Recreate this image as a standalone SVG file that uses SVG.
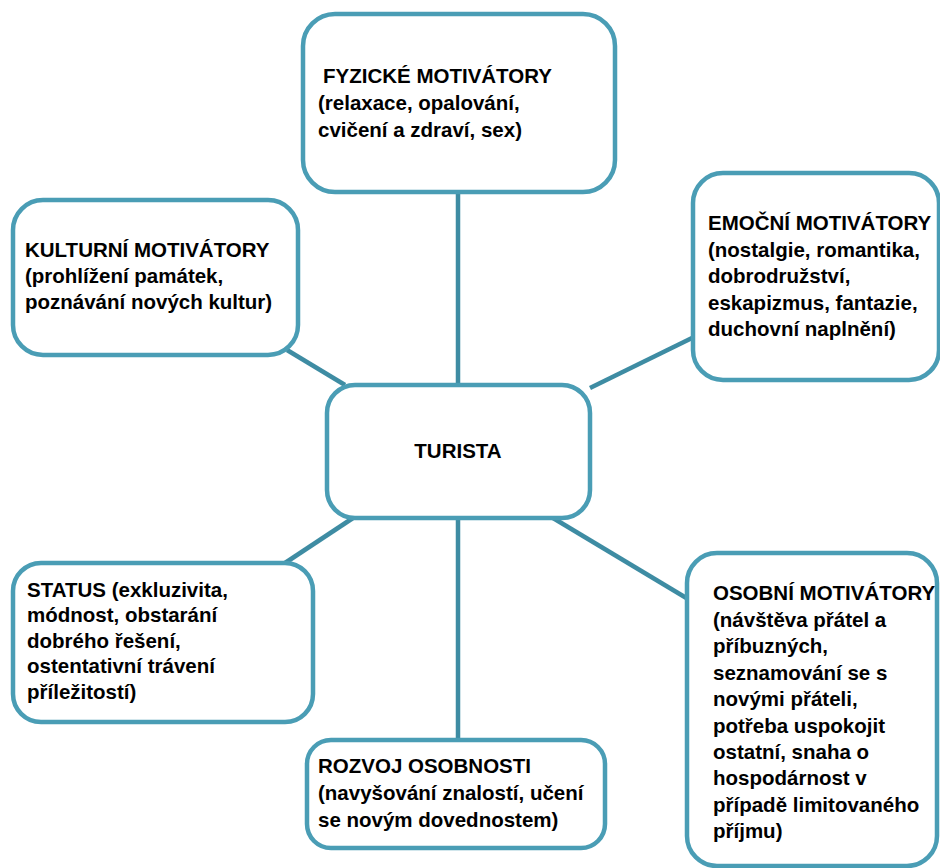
<svg xmlns="http://www.w3.org/2000/svg" width="940" height="868" viewBox="0 0 940 868">
<style>
.box{fill:#ffffff;stroke:#4a9db5;stroke-width:4.5}
.con{stroke:#3e8ca3;stroke-width:4.5;fill:none}
text{font-family:"Liberation Sans",Arial,sans-serif;font-weight:bold;font-size:20.5px;fill:#000}
</style>
<rect width="940" height="868" fill="#ffffff"/>
<g id="connectors">
<line class="con" x1="458" y1="192" x2="458" y2="385"/>
<line class="con" x1="458" y1="518" x2="458" y2="740"/>
<line class="con" x1="287" y1="350" x2="345" y2="385"/>
<line class="con" x1="590" y1="388" x2="692" y2="338"/>
<line class="con" x1="353" y1="518" x2="285" y2="563"/>
<line class="con" x1="553" y1="518" x2="688" y2="599"/>
</g>
<g id="fyzicke">
<rect class="box" x="303" y="14" width="312" height="178" rx="32"/>
<text><tspan x="323" y="83">FYZICKÉ MOTIVÁTORY</tspan><tspan x="318" y="110">(relaxace, opalování,</tspan><tspan x="318" y="137">cvičení a zdraví, sex)</tspan></text>
</g>
<g id="kulturni">
<rect class="box" x="13" y="200" width="285" height="155" rx="30"/>
<text><tspan x="25" y="257">KULTURNÍ MOTIVÁTORY</tspan><tspan x="25" y="283">(prohlížení památek,</tspan><tspan x="25" y="309">poznávání nových kultur)</tspan></text>
</g>
<g id="emocni">
<rect class="box" x="693" y="173" width="246" height="207" rx="30"/>
<text><tspan x="708" y="230">EMOČNÍ MOTIVÁTORY</tspan><tspan x="708" y="257">(nostalgie, romantika,</tspan><tspan x="708" y="283">dobrodružství,</tspan><tspan x="708" y="310">eskapizmus, fantazie,</tspan><tspan x="708" y="336">duchovní naplnění)</tspan></text>
</g>
<g id="turista">
<rect class="box" x="327" y="385" width="263" height="133" rx="28"/>
<text x="458" y="458" text-anchor="middle">TURISTA</text>
</g>
<g id="status">
<rect class="box" x="13" y="563" width="300" height="159" rx="28"/>
<text><tspan x="27" y="597">STATUS (exkluzivita,</tspan><tspan x="27" y="622">módnost, obstarání</tspan><tspan x="27" y="648">dobrého řešení,</tspan><tspan x="27" y="673">ostentativní trávení</tspan><tspan x="27" y="699">příležitostí)</tspan></text>
</g>
<g id="osobni">
<rect class="box" x="687" y="553" width="250" height="313" rx="30"/>
<text><tspan x="713" y="600">OSOBNÍ MOTIVÁTORY</tspan><tspan x="713" y="627">(návštěva přátel a</tspan><tspan x="713" y="653">příbuzných,</tspan><tspan x="713" y="680">seznamování se s</tspan><tspan x="713" y="706">novými přáteli,</tspan><tspan x="713" y="733">potřeba uspokojit</tspan><tspan x="713" y="759">ostatní, snaha o</tspan><tspan x="713" y="785">hospodárnost v</tspan><tspan x="713" y="812">případě limitovaného</tspan><tspan x="713" y="838">příjmu)</tspan></text>
</g>
<g id="rozvoj">
<rect class="box" x="307" y="740" width="298" height="108" rx="24"/>
<text><tspan x="318" y="773">ROZVOJ OSOBNOSTI</tspan><tspan x="318" y="800">(navyšování znalostí, učení</tspan><tspan x="318" y="827">se novým dovednostem)</tspan></text>
</g>
</svg>
